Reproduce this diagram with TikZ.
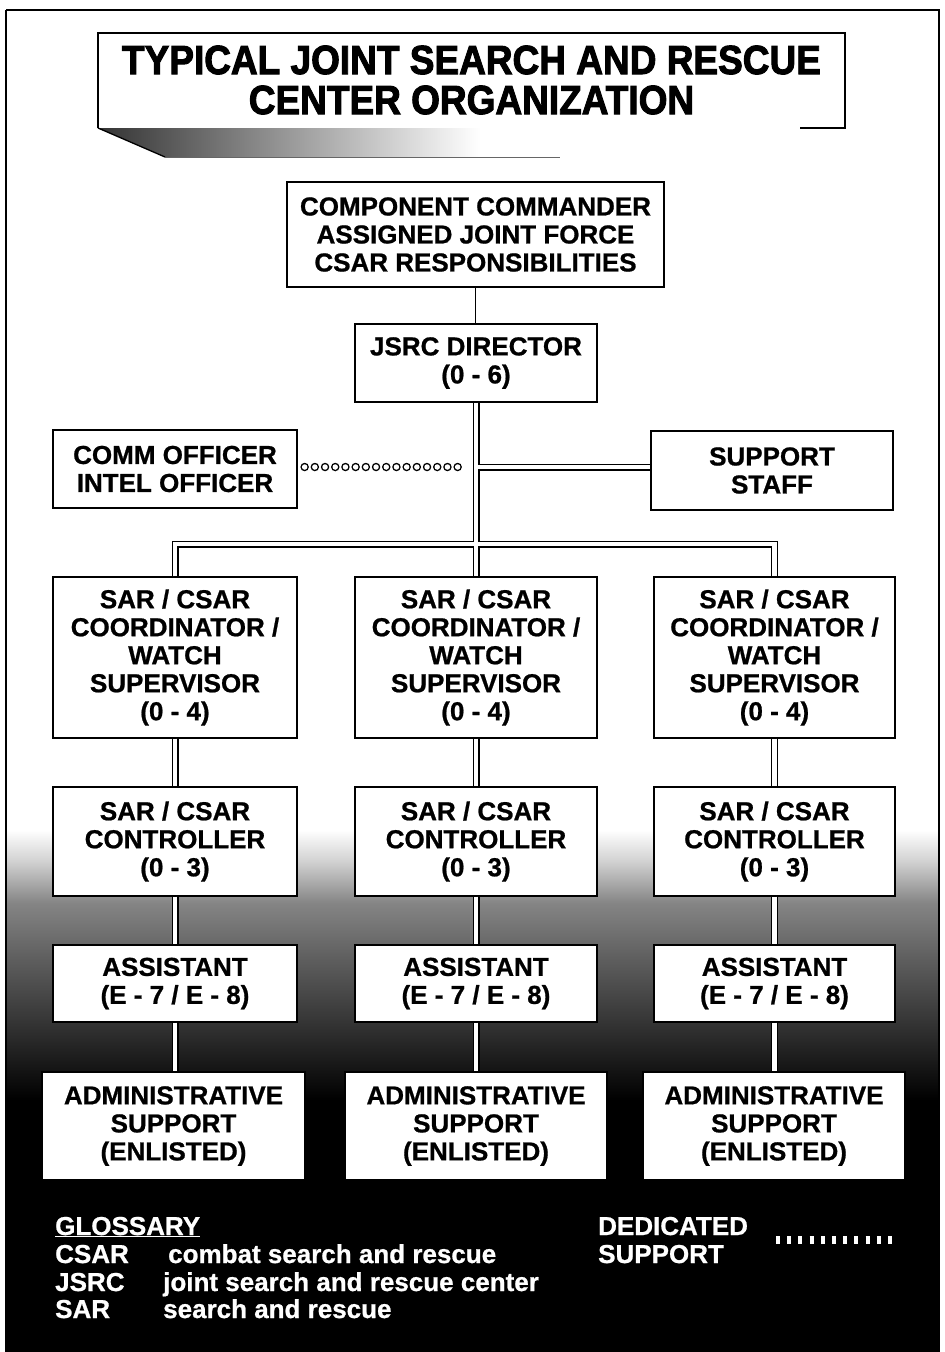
\documentclass[tikz,border=0pt]{standalone}
\usepackage{fontspec}
\setmainfont{Liberation Sans}
\newfontfamily\titlefont{Liberation Sans}[BoldFeatures={FakeBold=2.5}]
\newfontfamily\boxfont{Liberation Sans}[BoldFeatures={FakeBold=0.8}]
\pgfdeclareverticalshading{bgfade}{100bp}{color(0bp)=(black); color(25bp)=(black); color(27bp)=(black); color(32.4bp)=(black!92); color(41.7bp)=(black!78); color(52.8bp)=(black!62); color(62bp)=(black!48); color(69.4bp)=(black!18); color(75bp)=(white); color(100bp)=(white)}
\begin{document}
\begin{tikzpicture}[x=1pt,y=-1pt,
  box/.style={draw=black, line width=1.3pt, fill=white, align=center, inner sep=0pt,
    font=\boxfont\bfseries\fontsize{26}{28}\selectfont},
  gl/.style={text=white, inner sep=0pt, font=\boxfont\bfseries\fontsize{26}{28}\selectfont},
  titletext/.style={align=center, inner sep=0pt, font=\titlefont\bfseries\fontsize{37}{40}\selectfont},
  thinline/.style={draw=black, line width=1pt}]
\useasboundingbox (0,0) rectangle (945,1352);
% background
\fill[white] (0,0) rectangle (945,1352);
\shade[shading=bgfade] (6,830) rectangle (939,1111);
\fill[black] (6,1110) rectangle (939,1352);
\draw[line width=1.2pt] (6,10) -- (939,10) -- (939,1352);
\draw[line width=1.2pt] (6,10) -- (6,1352);
% title
\shade[left color=black!80, right color=white] (98,128) -- (165,157) -- (480,157) -- (480,128) -- cycle;
\draw[line width=1.3pt] (98,128) -- (98,33) -- (845,33) -- (845,128) -- (800,128);
\draw[line width=1.3pt] (98,128) -- (165,157);
\draw[line width=1pt, black!60] (165,157) -- (560,157);
\node[titletext] (title) at (471.5,80) {\scalebox{1}[1.1]{TYPICAL JOINT SEARCH AND RESCUE}\\\scalebox{1}[1.1]{CENTER ORGANIZATION}};
% boxes
\node[box, minimum width=377pt, minimum height=105pt] (cmd) at (475.5,234.5) {COMPONENT COMMANDER\\ASSIGNED JOINT FORCE\\CSAR RESPONSIBILITIES};
\node[box, minimum width=242pt, minimum height=78pt] (dir) at (476,363) {JSRC DIRECTOR\\(0 - 6)};
\node[box, minimum width=244pt, minimum height=78pt] (comm) at (175,469) {COMM OFFICER\\INTEL OFFICER};
\node[box, minimum width=242pt, minimum height=79pt] (staff) at (772,470.5) {SUPPORT\\STAFF};
\foreach \i/\x/\w in {1/175/244, 2/476/242, 3/774.5/241} {
  \node[box, minimum width=\w pt, minimum height=161pt] (co\i) at (\x,657.5) {SAR / CSAR\\COORDINATOR /\\WATCH\\SUPERVISOR\\(0 - 4)};
  \node[box, minimum width=\w pt, minimum height=109pt] (ct\i) at (\x,841.5) {SAR / CSAR\\CONTROLLER\\(0 - 3)};
  \node[box, minimum width=\w pt, minimum height=77pt] (as\i) at (\x,983.5) {ASSISTANT\\(E - 7 / E - 8)};
}
\node[box, minimum width=263pt, minimum height=108pt] (ad1) at (173.5,1126) {ADMINISTRATIVE\\SUPPORT\\(ENLISTED)};
\node[box, minimum width=262pt, minimum height=108pt] (ad2) at (476,1126) {ADMINISTRATIVE\\SUPPORT\\(ENLISTED)};
\node[box, minimum width=262pt, minimum height=108pt] (ad3) at (774,1126) {ADMINISTRATIVE\\SUPPORT\\(ENLISTED)};
% connectors
\coordinate (jn) at (476,467);
\coordinate (bus) at (476,544);
\draw[thinline] (cmd.south) -- (cmd.south |- dir.north);
\draw[black, line width=8.5pt, dash pattern=on 0pt off 10.2pt, line cap=round, shorten <=7pt, shorten >=9pt] (comm.east |- jn) -- (jn);
\draw[white, line width=5.5pt, dash pattern=on 0pt off 10.2pt, line cap=round, shorten <=7pt, shorten >=9pt] (comm.east |- jn) -- (jn);
\newcommand\pipepaths{%
  \draw[pipe] (dir.south) -- (bus) -- (co2.north);
  \draw[pipe] (jn) -- (jn -| staff.west);
  \draw[pipe] (co1.north) |- (bus) -| (co3.north);
  \foreach \i in {1,2,3} {
    \draw[pipe] (co\i.south) -- (ct\i.north);
    \draw[pipe] (ct\i.south) -- (as\i.north);
    \draw[pipe] (as\i.south) -- (as\i.south |- ad\i.north);
  }%
}
\tikzset{pipe/.style={draw=black, line width=7pt}}
\pipepaths
\tikzset{pipe/.style={draw=white, line width=4.6pt}}
\pipepaths
% glossary
\node[gl, anchor=base west] (g0) at (55,1235) {\underline{GLOSSARY}};
\node[gl, anchor=base west] (g1) at (55,1263) {CSAR};
\node[gl, anchor=base west] (g1d) at (168,1263) {combat search and rescue};
\node[gl, anchor=base west] (g2) at (55,1291) {JSRC};
\node[gl, anchor=base west] (g2d) at (163,1291) {joint search and rescue center};
\node[gl, anchor=base west] (g3) at (55,1318) {SAR};
\node[gl, anchor=base west] (g3d) at (163,1318) {search and rescue};
\node[gl, anchor=base west] (d1) at (598,1235) {DEDICATED};
\node[gl, anchor=base west] (d2) at (598,1263) {SUPPORT};
\coordinate (ds) at (776,1240);
\coordinate (de) at (895,1240);
\draw[white, line width=8pt, dash pattern=on 4pt off 7.2pt] (ds) -- (de);
\end{tikzpicture}
\end{document}
